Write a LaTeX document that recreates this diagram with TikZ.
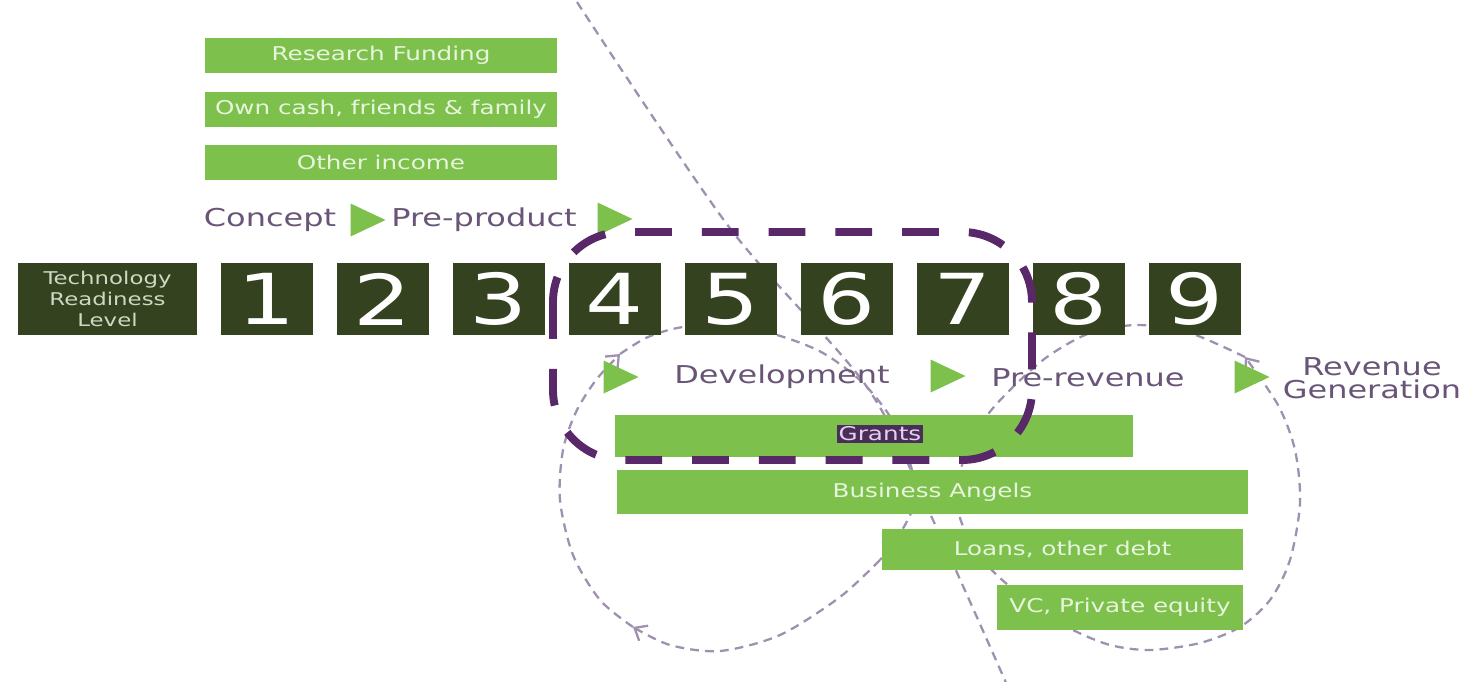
\documentclass[tikz,border=0pt]{standalone}
\usepackage{fontspec}
\setmainfont[FakeStretch=1.3]{DejaVu Sans}
\usetikzlibrary{shapes.geometric,arrows.meta}

\definecolor{lgreen}{RGB}{125,193,76}
\definecolor{trlgreen}{RGB}{52,66,31}
\definecolor{boxtext}{RGB}{232,245,222}
\definecolor{stagetext}{RGB}{105,85,120}
\definecolor{framepurple}{RGB}{88,40,105}
\definecolor{loopgrey}{RGB}{158,145,175}
\definecolor{grantbg}{RGB}{75,45,90}
\definecolor{granttext}{RGB}{225,210,240}
\definecolor{trltext}{RGB}{205,218,195}

\tikzset{
  fund/.style={fill=lgreen, text=boxtext, inner sep=0pt, font=\fontsize{10.8}{12}\selectfont},
  trl/.style={fill=trlgreen, text=white, minimum width=1.84cm, minimum height=1.44cm, inner sep=0pt, font=\fontsize{40}{40}\selectfont},
  stage/.style={text=stagetext, inner sep=0pt, font=\fontsize{14}{13}\selectfont},
  tri/.style={isosceles triangle, isosceles triangle stretches, fill=lgreen, inner sep=0pt, minimum width=0.66cm, minimum height=0.7cm},
  loopline/.style={loopgrey, line width=1.3pt, dash pattern=on 5pt off 3.5pt},
  loopend/.style={-{Straight Barb[length=6pt,width=10pt]}},
  frame/.style={framepurple, line width=4.5pt, dash pattern=on 21pt off 17pt, rounded corners=1.4cm}
}

\begin{document}
\begin{tikzpicture}[x=0.02cm, y=-0.02cm, node distance=2.32cm]
\useasboundingbox (0,0) rectangle (1475,681);

% funding cycles (drawn first, boxes sit on top)
\draw[loopline] plot[smooth] coordinates {(577,2) (729,227) (867,387) (933,520) (1007,685)};
\draw[loopline, loopend] plot[smooth] coordinates {(880,560) (840,597) (780,635) (720,651) (670,645) (633,627)};
\draw[loopline, loopend] plot[smooth] coordinates {(633,627) (600,600) (573,555) (560,500) (563,450) (576,412) (596,380) (620,354)};
\draw[loopline] plot[smooth] coordinates {(620,354) (648,337) (683,327) (730,326) (777,335) (823,353) (865,385) (898,430) (916,490) (905,525) (880,560)};
\draw[loopline, loopend] plot[smooth] coordinates {(1245,357) (1190,333) (1138,325) (1090,333) (1047,357) (1010,390) (984,420) (962,465) (958,510) (975,550) (1000,578) (1040,610) (1073,630) (1110,645) (1150,650) (1200,643) (1240,627) (1270,600) (1290,560) (1300,503) (1295,450) (1278,405) (1245,357)};

% early funding
\node[fund, minimum width=7.04cm, minimum height=0.7cm] (rf) at (381,55.5) {Research Funding};
\node[fund, minimum width=7.04cm, minimum height=0.7cm] (own) at (381,109) {Own cash, friends \& family};
\node[fund, minimum width=7.04cm, minimum height=0.7cm] (oi) at (381,162.5) {Other income};

% stages
\node[stage] (concept) at (270,220) {Concept};
\node[tri] (t1) at (361,220) {};
\node[stage] (preprod) at (484,220) {Pre-product};
\node[tri] (t2) at (608,219) {};

% TRL row
\node[trl, minimum width=3.58cm, text=trltext, align=center, font=\fontsize{10}{12}\selectfont] (trl) at (107.5,299) {Technology\\Readiness\\Level};
\node[trl] (l1) at (267,299) {1};
\node[trl, right of=l1] (l2) {2};
\node[trl, right of=l2] (l3) {3};
\node[trl, right of=l3] (l4) {4};
\node[trl, right of=l4] (l5) {5};
\node[trl, right of=l5] (l6) {6};
\node[trl, right of=l6] (l7) {7};
\node[trl, right of=l7] (l8) {8};
\node[trl, right of=l8] (l9) {9};

\node[tri] (t3) at (614,377) {};
\node[stage] (dev) at (782,377) {Development};
\node[tri] (t4) at (941,376) {};
\node[stage] (prerev) at (1088,378) {Pre-revenue};
\node[tri] (t5) at (1245,377) {};
\node[stage, align=center] (revgen) at (1372,378) {Revenue\\Generation};

% later funding
\node[fund, minimum width=10.36cm, minimum height=0.84cm] (grants) at (874,436) {};
\node[fill=grantbg, text=granttext, inner sep=1pt, font=\fontsize{10.8}{12}\selectfont] (glabel) at (880,434) {Grants};
\node[fund, minimum width=12.62cm, minimum height=0.88cm] (angels) at (932.5,492) {Business Angels};
\node[fund, minimum width=7.22cm, minimum height=0.82cm] (loans) at (1062.5,549.5) {Loans, other debt};
\node[fund, minimum width=4.92cm, minimum height=0.9cm] (vc) at (1120,607.5) {VC, Private equity};

% TRL 4-7 highlight
\draw[frame] (553,232) rectangle (1032,460);
\end{tikzpicture}
\end{document}
